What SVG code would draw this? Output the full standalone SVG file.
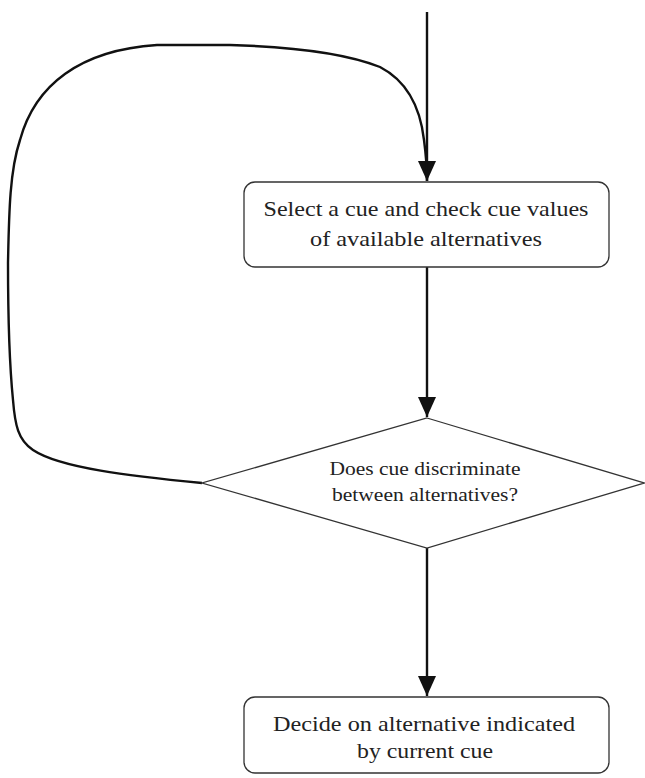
<svg xmlns="http://www.w3.org/2000/svg" width="645" height="778" viewBox="0 0 645 778">
<style>
.box{fill:#fff;stroke:#333;stroke-width:1.3}
.t{font-family:"Liberation Serif","Times New Roman",serif;fill:#222;text-anchor:middle}
.b{font-size:21px}
.d{font-size:19px}
.c{fill:none;stroke:#111;stroke-width:2.4}
</style>
<defs>
<marker id="ah" markerWidth="8" markerHeight="8" refX="8" refY="4" orient="auto" markerUnits="userSpaceOnUse" viewBox="0 0 8 8">
<path d="M0,0 L8,4 L0,8 Z" fill="#111"/>
</marker>
<marker id="arr" viewBox="0 0 20 20" refX="20" refY="10" markerWidth="20" markerHeight="20" orient="auto" markerUnits="userSpaceOnUse">
<path d="M0,1 L20,10 L0,19 Z" fill="#111"/>
</marker>
</defs>
<rect width="645" height="778" fill="#fff"/>
<g id="connectors">
<path class="c" d="M427,12 L427,181" marker-end="url(#arr)"/>
<path class="c" d="M202,483 C130,476 60,468 33,450 C18,440 15,425 13,400 C9,360 8,300 8,263 C9,210 10,170 20,140 C35,85 80,50 157,45 L230,45 C300,47 350,55 380,67 C405,80 420,105 424,140 C426,155 427,165 427,181"/>
<path class="c" d="M427,267 L427,417" marker-end="url(#arr)"/>
<path class="c" d="M427,548 L427,696" marker-end="url(#arr)"/>
</g>
<g id="select">
<rect class="box" x="244" y="182" width="365" height="85" rx="11"/>
<text class="t b" x="426" y="216" textLength="325" lengthAdjust="spacingAndGlyphs">Select a cue and check cue values</text>
<text class="t b" x="426" y="246" textLength="232" lengthAdjust="spacingAndGlyphs">of available alternatives</text>
</g>
<g id="discriminate">
<polygon class="box" points="427,418 644,483 427,548 202,483"/>
<text class="t d" x="425" y="475" textLength="191" lengthAdjust="spacingAndGlyphs">Does cue discriminate</text>
<text class="t d" x="425" y="501" textLength="186" lengthAdjust="spacingAndGlyphs">between alternatives?</text>
</g>
<g id="decide">
<rect class="box" x="244" y="697" width="365" height="76" rx="11"/>
<text class="t b" x="424" y="731" textLength="302" lengthAdjust="spacingAndGlyphs">Decide on alternative indicated</text>
<text class="t b" x="425" y="758" textLength="136" lengthAdjust="spacingAndGlyphs">by current cue</text>
</g>
</svg>
